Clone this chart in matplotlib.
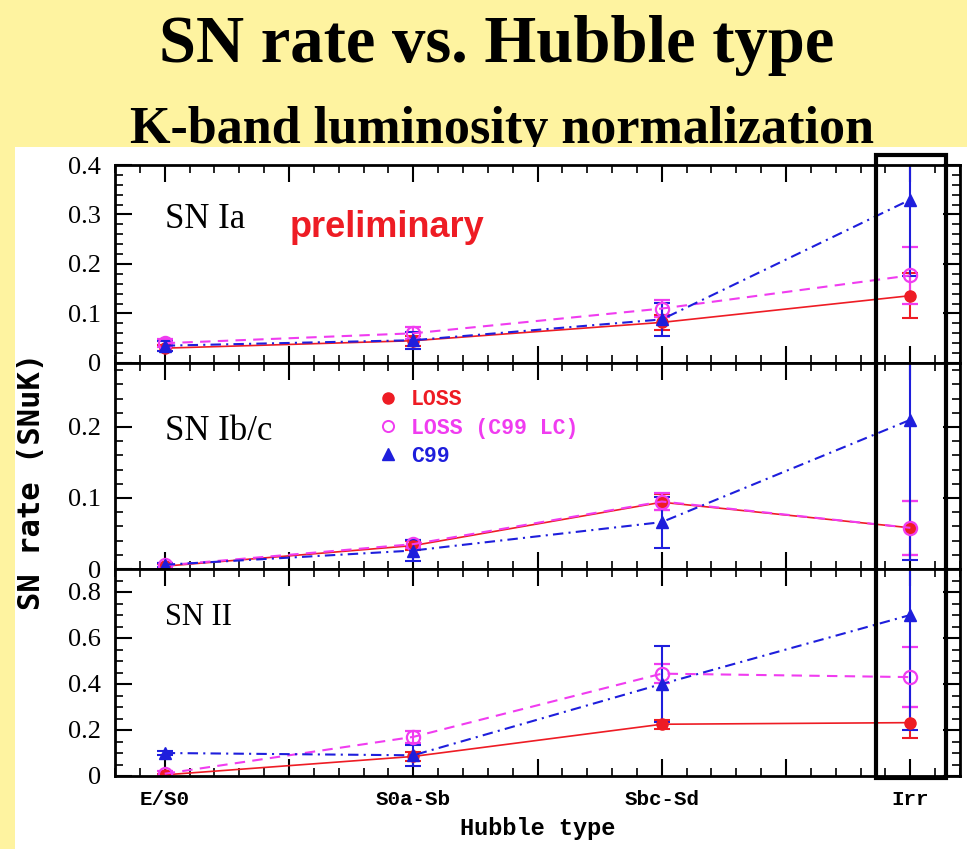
import matplotlib
matplotlib.use("Agg")
import matplotlib.pyplot as plt
from matplotlib.lines import Line2D
from matplotlib.patches import Rectangle
from matplotlib.ticker import MultipleLocator, FuncFormatter
from matplotlib.transforms import blended_transform_factory

# ---- data -------------------------------------------------------------
hubble_types = ["E/S0", "S0a-Sb", "Sbc-Sd", "Irr"]

# SN Ia
loss_ia = [0.030, 0.045, 0.082, 0.136]
loss_ia_err = [0.006, 0.010, 0.015, 0.045]
lossc_ia = [0.040, 0.060, 0.110, 0.177]
lossc_ia_err = [0.008, 0.012, 0.018, 0.058]
c99_ia = [0.035, 0.046, 0.088, 0.330]
c99_ia_err = [0.010, 0.017, 0.034, 0.155]

# SN Ib/c
loss_ibc = [0.004, 0.033, 0.094, 0.058]
loss_ibc_err = [0.003, 0.006, 0.011, 0.038]
lossc_ibc = [0.005, 0.035, 0.095, 0.058]
lossc_ibc_err = [0.003, 0.006, 0.012, 0.038]
c99_ibc = [0.006, 0.026, 0.066, 0.210]
c99_ibc_err = [0.003, 0.015, 0.036, 0.197]

# SN II
loss_ii = [0.005, 0.085, 0.225, 0.232]
loss_ii_err = [0.005, 0.020, 0.020, 0.067]
lossc_ii = [0.010, 0.170, 0.445, 0.430]
lossc_ii_err = [0.010, 0.025, 0.040, 0.130]
c99_ii = [0.100, 0.090, 0.400, 0.700]
c99_ii_err = [0.010, 0.045, 0.165, 0.500]

panel_names = ["SN Ia", "SN Ib/c", "SN II"]
series_names = ["LOSS", "LOSS (C99 LC)", "C99"]

# ---- style --------------------------------------------------------------
YELLOW = "#FEF3A0"
RED = "#EE1C24"
MAGENTA = "#F03CF0"
BLUE = "#1E1EDC"

W, H = 967, 849
fig = plt.figure(figsize=(W / 100, H / 100), dpi=100, facecolor=YELLOW)

def fx(px):
    return px / W

def fy(py):
    return 1 - py / H

# headings
fig.text(fx(497), fy(62), "SN rate vs. Hubble type", ha="center", va="baseline",
         fontsize=48, fontweight="bold", family="Liberation Serif", zorder=3)
fig.text(fx(502), fy(143), "K-band luminosity normalization", ha="center", va="baseline",
         fontsize=37.5, fontweight="bold", family="Liberation Serif", zorder=0.1)

# white plotting sheet
fig.add_artist(Rectangle((fx(15), 0), 1 - fx(15), fy(147), transform=fig.transFigure,
                         facecolor="white", edgecolor="none", zorder=0.2))

x = list(range(1, len(hubble_types) + 1))

left, right = fx(115), fx(960)
panel_px = [(165, 363), (363, 569), (569, 776)]
ylims = [0.4, 0.29, 0.9]
ymajor = [0.1, 0.1, 0.2]
yminor = [0.02, 0.02, 0.05]

data = [
    [(loss_ia, loss_ia_err), (lossc_ia, lossc_ia_err), (c99_ia, c99_ia_err)],
    [(loss_ibc, loss_ibc_err), (lossc_ibc, lossc_ibc_err), (c99_ibc, c99_ibc_err)],
    [(loss_ii, loss_ii_err), (lossc_ii, lossc_ii_err), (c99_ii, c99_ii_err)],
]

def fmt_tick(v, pos):
    if abs(v) < 1e-9:
        return "0"
    return f"{v:.1f}"

def fmt_type(v, pos):
    k = int(round(v))
    if abs(v - k) < 1e-6 and 1 <= k <= len(hubble_types):
        return hubble_types[k - 1]
    return ""

axes = []
for i, (top, bot) in enumerate(panel_px):
    ax = fig.add_axes([left, fy(bot), right - left, (bot - top) / H])
    ax.set_zorder(1)
    axes.append(ax)
    (ly, le), (cy, ce), (by, be) = data[i]

    ax.errorbar(x, ly, yerr=le, fmt="o", color=RED, ms=8, ls="-", lw=1.2,
                ecolor=RED, elinewidth=1.5, capsize=6, capthick=1.5)
    ax.errorbar(x, cy, yerr=ce, fmt="o", color=MAGENTA, mfc="none", mec=MAGENTA, ms=9.5,
                mew=1.6, ls="--", dashes=(5, 3.5), lw=1.5,
                ecolor=MAGENTA, elinewidth=1.5, capsize=6, capthick=1.5)
    ax.errorbar(x, by, yerr=be, fmt="^", color=BLUE, ms=8, ls="-.", dashes=(5, 2.5, 1, 2.5),
                lw=1.5, ecolor=BLUE, elinewidth=1.5, capsize=6, capthick=1.5)

    ax.set_xlim(0.8, 4.2)
    ax.set_ylim(0, ylims[i])
    ax.xaxis.set_major_locator(MultipleLocator(0.5))
    ax.xaxis.set_minor_locator(MultipleLocator(0.1))
    ax.yaxis.set_major_locator(MultipleLocator(ymajor[i]))
    ax.yaxis.set_minor_locator(MultipleLocator(yminor[i]))
    ax.yaxis.set_major_formatter(FuncFormatter(fmt_tick))
    ax.tick_params(which="both", direction="in", top=True, right=True)
    ax.tick_params(which="major", length=12, width=1.5, pad=10)
    ax.tick_params(which="minor", length=6, width=1.2)
    for lbl in ax.get_yticklabels():
        lbl.set_family("Liberation Serif")
        lbl.set_fontsize(19)
    for s in ax.spines.values():
        s.set_linewidth(2)
    if i < 2:
        ax.tick_params(axis="x", labelbottom=False)
    else:
        ax.xaxis.set_major_formatter(FuncFormatter(fmt_type))
        for lbl in ax.get_xticklabels():
            lbl.set_family("Liberation Mono")
            lbl.set_fontweight("bold")
            lbl.set_fontsize(15)
        ax.set_xlabel("Hubble type", family="Liberation Mono", fontweight="bold",
                      fontsize=17, labelpad=6)

# panel names
name_pos = [(0.0592, 0.682, 25), (0.0592, 0.626, 25), (0.0592, 0.729, 22)]
for ax, name, (tx, ty, fs) in zip(axes, panel_names, name_pos):
    ax.text(tx, ty, name, transform=ax.transAxes, ha="left", va="baseline",
            family="Liberation Serif", fontsize=fs)

axes[0].text(0.207, 0.636, "preliminary", transform=axes[0].transAxes, ha="left",
             va="baseline", color=RED, fontsize=26, fontweight="bold",
             family="Liberation Sans")

# legend in the middle panel
handles = [
    Line2D([], [], ls="none", marker="o", color=RED, ms=8),
    Line2D([], [], ls="none", marker="o", mfc="none", mec=MAGENTA, mew=1.4, ms=8),
    Line2D([], [], ls="none", marker="^", color=BLUE, ms=8),
]
leg = axes[1].legend(handles, series_names, loc="upper left",
                     bbox_to_anchor=(0.298, 0.925), frameon=False, borderpad=0,
                     handlelength=1.0, handletextpad=0.55, labelspacing=0.34,
                     prop={"family": "Liberation Mono", "weight": "bold", "size": 15.5})
for t, c in zip(leg.get_texts(), [RED, MAGENTA, BLUE]):
    t.set_color(c)

fig.text(fx(32), fy(481), "SN rate (SNuK)", rotation=90, ha="center", va="center",
         family="DejaVu Sans Mono", fontweight="bold", fontsize=22, zorder=3)

# box around the irregular galaxies column
irr = len(hubble_types)
trans = blended_transform_factory(axes[2].transData, fig.transFigure)
fig.add_artist(Rectangle((irr - 0.137, fy(778)), 0.282, fy(155) - fy(778), transform=trans,
                         fill=False, edgecolor="black", linewidth=3, zorder=5))

fig.savefig("out.png", dpi=100, facecolor=YELLOW)
